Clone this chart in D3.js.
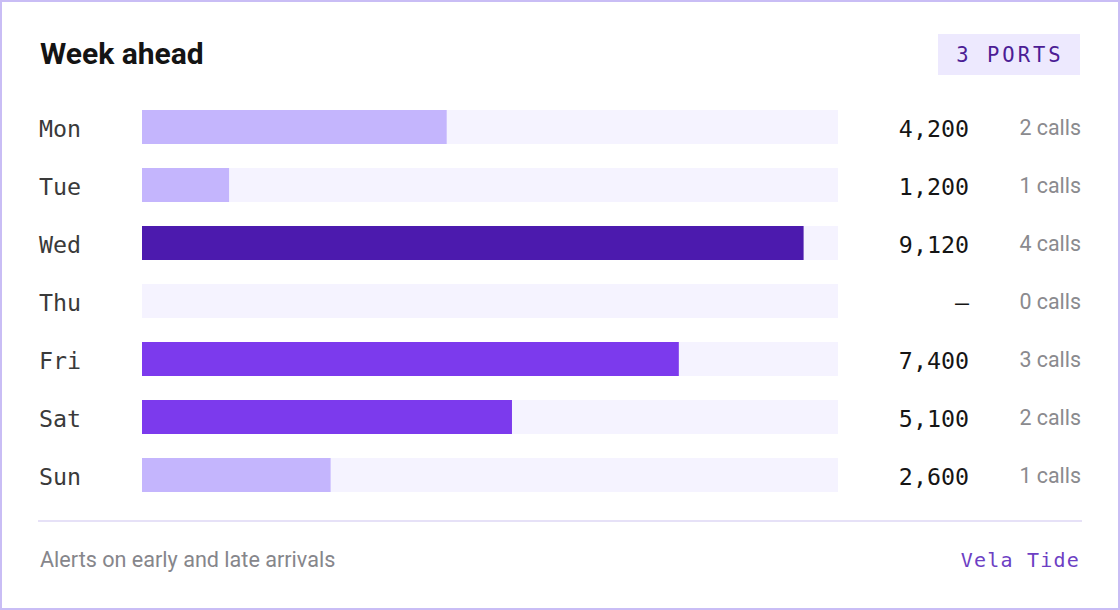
<!DOCTYPE html>
<html>
<head>
<meta charset="utf-8">
<script src="https://cdn.jsdelivr.net/npm/d3@7"></script>
<style>
  html, body { margin: 0; padding: 0; background: #fff; }
  svg { display: block; }
</style>
</head>
<body>
<script>
const days = ["Mon", "Tue", "Wed", "Thu", "Fri", "Sat", "Sun"];
const volumes = [4200, 1200, 9120, 0, 7400, 5100, 2600];
const calls = [2, 1, 4, 0, 3, 2, 1];
const badgeText = "3 PORTS";

const W = 1120, H = 610;
const mono = "'DejaVu Sans Mono', 'Liberation Mono', monospace";
const sans = "Roboto, 'Noto Sans', sans-serif";

const svg = d3.select("body").append("svg")
  .attr("width", W)
  .attr("height", H);

// card border
svg.append("rect")
  .attr("x", 1).attr("y", 1)
  .attr("width", W - 2).attr("height", H - 2)
  .attr("fill", "#fff")
  .attr("stroke", "#c9bdf5")
  .attr("stroke-width", 2);

svg.append("text")
  .attr("x", 40).attr("y", 64)
  .attr("font-family", sans)
  .attr("font-weight", 700)
  .attr("font-size", 30)
  .attr("fill", "#141414")
  .text("Week ahead");

// badge
svg.append("rect")
  .attr("x", 938).attr("y", 34)
  .attr("width", 142).attr("height", 41)
  .attr("fill", "#ede9fe");
svg.append("text")
  .attr("x", 1010).attr("y", 62)
  .attr("text-anchor", "middle")
  .attr("font-family", mono)
  .attr("font-size", 20.5)
  .attr("letter-spacing", 3)
  .attr("fill", "#4c1d95")
  .text(badgeText);

const rows = days.map((d, i) => ({ day: d, v: volumes[i], c: calls[i] }));

const x = d3.scaleLinear()
  .domain([0, d3.max(volumes) * 1.052])
  .range([142, 838]);

const y = d3.scaleBand()
  .domain(days)
  .range([110, 492])
  .paddingInner(24 / 58)
  .paddingOuter(0);

const color = v => v >= 9000 ? "#4c1aae" : v >= 5000 ? "#7c3aed" : "#c4b5fd";

const g = svg.selectAll("g.row").data(rows)
  .enter().append("g")
  .attr("class", "row");

g.append("rect")
  .attr("x", x(0))
  .attr("y", d => y(d.day))
  .attr("width", x.range()[1] - x(0))
  .attr("height", y.bandwidth())
  .attr("fill", "#f5f3ff");

g.append("rect")
  .attr("x", x(0))
  .attr("y", d => y(d.day))
  .attr("width", d => x(d.v) - x(0))
  .attr("height", y.bandwidth())
  .attr("fill", d => color(d.v));

const mid = d => y(d.day) + y.bandwidth() / 2;

g.append("text")
  .attr("x", 39)
  .attr("y", mid)
  .attr("dy", "0.44em")
  .attr("font-family", mono)
  .attr("font-size", 23.3)
  .attr("fill", "#3a3a3a")
  .text(d => d.day);

g.append("text")
  .attr("x", 969)
  .attr("y", mid)
  .attr("dy", "0.45em")
  .attr("text-anchor", "end")
  .attr("font-family", mono)
  .attr("font-size", 23.3)
  .attr("fill", "#151515")
  .text(d => d.v ? d3.format(",")(d.v) : "\u2013");

g.append("text")
  .attr("x", 1081)
  .attr("y", mid)
  .attr("dy", "0.36em")
  .attr("text-anchor", "end")
  .attr("font-family", sans)
  .attr("font-size", 21.4)
  .attr("fill", "#8a8a8e")
  .text(d => d.c + " calls");

svg.append("line")
  .attr("x1", 38).attr("x2", 1082)
  .attr("y1", 521).attr("y2", 521)
  .attr("stroke", "#e6e1f7")
  .attr("stroke-width", 2);

svg.append("text")
  .attr("x", 40).attr("y", 567)
  .attr("font-family", sans)
  .attr("font-size", 21.6)
  .attr("fill", "#86868b")
  .text("Alerts on early and late arrivals");

svg.append("text")
  .attr("x", 1080).attr("y", 567)
  .attr("text-anchor", "end")
  .attr("font-family", mono)
  .attr("font-size", 20)
  .attr("letter-spacing", 1.2)
  .attr("fill", "#6d3fc4")
  .text("Vela Tide");
</script>
</body>
</html>
